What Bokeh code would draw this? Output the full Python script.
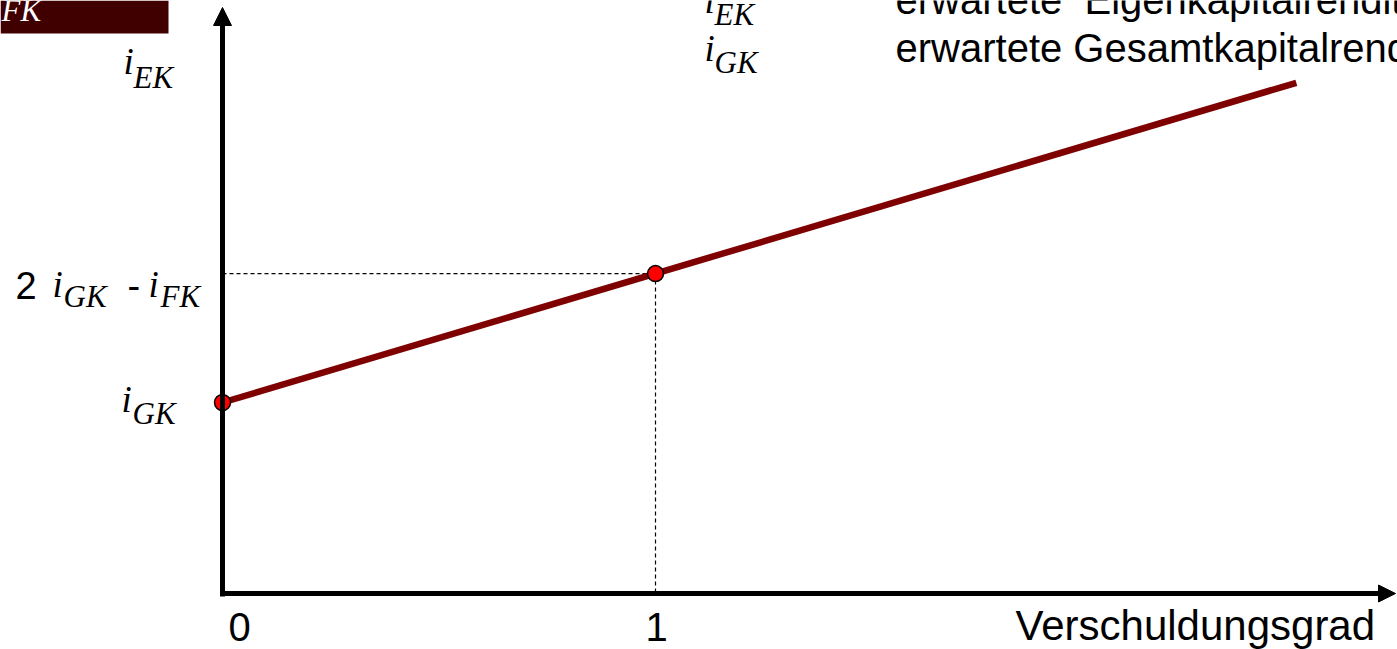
from bokeh.plotting import figure
from bokeh.models import Arrow, NormalHead, Label, BoxAnnotation, Range1d
from bokeh.embed import file_html
from bokeh.resources import INLINE

# ---- data ----
i_GK = 1.0                      # total capital return (axis unit)
i_FK = 0.325                    # cost of debt
leverage_line = [0.0, 2.48]     # Verschuldungsgrad, start / end of the i_EK line
i_EK_line = [1.0, 2.674]        # i_EK at those leverage values
leverage_points = [0.0, 1.0]    # marked points
i_EK_points = [1.0, 1.675]      # i_GK  and  2 i_GK - i_FK
x_tick_values = [0, 1]
x_tick_labels = ["0", "1"]
x_axis_title = "Verschuldungsgrad"
legend_symbols = ["EK", "GK"]
legend_texts = ["erwartete \u00a0Eigenkapitalrendite", "erwartete Gesamtkapitalrendite"]

# ---- layout helpers (picture pixel -> data) ----
W, H = 1397, 649
OX, OY = 0, 0           # picture position of the figure's top-left corner
X0, XU = 222.0, 433.0   # picture x of leverage 0, pixels per unit
Y0, YU = 593.0, 191.0   # picture y of return 0, pixels per unit
BASE_SHIFT = 0.4        # baseline correction, fraction of font size


def px(sx):
    return (sx - X0) / XU


def py(sy):
    return (Y0 - sy) / YU


p = figure(width=W, height=H,
           x_range=Range1d(px(OX), px(OX + W)), y_range=Range1d(py(OY + H), py(OY)),
           output_backend="svg", toolbar_location=None,
           x_axis_location=None, y_axis_location=None,
           min_border=0, outline_line_color=None, background_fill_color="white")
p.grid.visible = False

# dashed guide lines
p.line([leverage_points[0], leverage_points[1]], [i_EK_points[1], i_EK_points[1]],
       line_color="black", line_width=1.2, line_dash="4 3")
p.line([leverage_points[1], leverage_points[1]], [i_EK_points[1], 0],
       line_color="black", line_width=1.2, line_dash="4 3")
p.line([leverage_points[0], leverage_points[0]], [i_EK_points[1], 0],
       line_color="black", line_width=1.2, line_dash="4 3")

# i_EK line
p.line(leverage_line, i_EK_line, line_color="#7f0000", line_width=6.5)

# axes as arrows
p.add_layout(Arrow(x_start=px(222), y_start=py(596), x_end=px(222), y_end=py(7),
                   line_color="black", line_width=5,
                   end=NormalHead(size=18, fill_color="black", line_color="black")))
p.add_layout(Arrow(x_start=px(220), y_start=0, x_end=px(1395), y_end=0,
                   line_color="black", line_width=5,
                   end=NormalHead(size=17, fill_color="black", line_color="black")))

# points
p.scatter(leverage_points, i_EK_points, size=16, fill_color="#ff0000",
          line_color="black", line_width=1.5)


def lab(text, sx, sy, size, font="Liberation Serif", style="italic",
        color="black", align="left"):
    p.add_layout(Label(x=px(sx), y=py(sy - BASE_SHIFT * size), text=text,
                       text_font=font, text_font_style=style,
                       text_font_size=f"{size}px", text_color=color,
                       text_align=align, text_baseline="alphabetic"))


# top-left box
p.add_layout(BoxAnnotation(left=px(0), right=px(168), top=py(0), bottom=py(33),
                           fill_color="#400000", fill_alpha=1.0, line_color=None,
                           level="underlay"))
lab("FK", 1, 22, 31, color="white")

# y labels
lab("i", 123, 76, 37)
lab("EK", 133, 89, 31)

lab("2", 15, 300, 38, font="Liberation Sans", style="normal")
lab("i", 52, 299, 37)
lab("GK", 63, 308, 31)
lab("-", 127, 300, 38, font="Liberation Sans", style="normal")
lab("i", 148, 299, 37)
lab("FK", 160, 308, 31)

lab("i", 121, 414, 37)
lab("GK", 132, 425, 31)

# legend at top
for k, (sym, txt) in enumerate(zip(legend_symbols, legend_texts)):
    base = 15 + 48 * k
    lab("i", 704, base, 37)
    lab(sym, 714, base + 11, 31)
    lab(txt, 895, base, 40, font="Liberation Sans", style="normal")

# x tick labels and title
tick_offsets = [17, 1]
for v, t, off in zip(x_tick_values, x_tick_labels, tick_offsets):
    p.add_layout(Label(x=v, y=py(642 - BASE_SHIFT * 40), x_offset=off, text=t,
                       text_font="Liberation Sans", text_font_size="40px",
                       text_align="center", text_baseline="alphabetic",
                       text_color="black"))
lab(x_axis_title, 1015, 642, 42, font="Liberation Sans", style="normal")

open("out.html", "w").write(file_html(p, INLINE))
